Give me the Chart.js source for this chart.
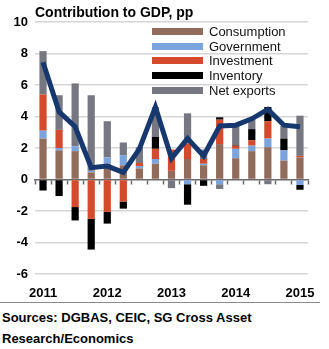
<!DOCTYPE html>
<html lang="en">
<head>
  <meta charset="UTF-8">
  <title>Contribution to GDP, pp</title>
  <script src="https://cdn.jsdelivr.net/npm/chart.js"></script>
  <style>
    body {
      margin: 0;
      width: 329px;
      height: 349px;
      background: #fff;
      font-family: 'Liberation Sans', Arial, sans-serif;
      position: relative;
      overflow: hidden;
    }

    #chart-box {
      position: absolute;
      left: 0;
      top: 0;
      width: 329px;
      height: 300px;
    }

    .title {
      position: absolute;
      left: 35px;
      top: 4px;
      font-size: 14px;
      font-weight: bold;
      line-height: 16px;
      color: #000;
    }

    /* leyenda */
    .legend {
      position: absolute;
      left: 152px;
      top: 24px;
    }
    .legend .item {
      height: 14.75px;
      display: flex;
      align-items: center;
      font-size: 13px;
      color: #111;
    }
    .legend .swatch {
      width: 51px;
      height: 7px;
      margin-right: 6px;
    }

    .rule {
      position: absolute;
      left: 0;
      top: 302px;
      width: 320px;
      border-top: 1px solid #8a8a8a;
    }

    .source {
      position: absolute;
      left: 2px;
      top: 307px;
      font-size: 13px;
      font-weight: bold;
      line-height: 21px;
      color: #000;
    }
  </style>
</head>
<body>
  <div id="chart-box"><canvas id="gdpChart"></canvas></div>
  <div class="title">Contribution to GDP, pp</div>
  <div class="legend" id="legend"></div>
  <div class="rule"></div>
  <div class="source">Sources: DGBAS, CEIC, SG Cross Asset<br>Research/Economics</div>

  <script>
    // Trimestres 2011Q1 - 2015Q1
    const quarters = ['2011', '', '', '', '2012', '', '', '', '2013', '', '', '', '2014', '', '', '', '2015'];

    const consumption = [2.6, 1.85, 1.8, 0.45, 1.0, 0.9, 0.7, 1.0, 0.55, 1.3, 0.9, 2.25, 1.35, 1.8, 2.05, 1.2, 1.4];
    const government  = [0.5, 0.15, 0.3, 0.1, 0.4, 0.65, 0.15, 0.3, 0, -0.3, 0.1, -0.3, 0.6, 0.35, 0.55, 0.65, -0.35];
    const investment  = [2.3, 1.15, -1.75, -2.5, -2.05, -1.4, 0.2, 0.65, 1.35, 1.0, 0.3, 1.55, 0.2, 0.35, 1.1, 0, 0.1];
    const inventory   = [-0.7, -1.05, -0.85, -1.95, -0.75, -0.45, 0, 0.75, 0, -1.3, -0.4, 0.15, 0.05, 0.7, 0.9, 0.75, -0.3];
    const netExports  = [2.75, 2.2, 4.0, 4.8, 2.3, 0.8, 1.0, 1.9, -0.55, 1.9, 0.6, -0.3, 1.2, 0.62, -0.3, 0.8, 2.55];
    const gdpGrowth   = [7.45, 4.3, 3.35, 0.75, 0.85, 0.45, 1.95, 4.6, 1.35, 2.6, 1.5, 3.4, 3.45, 3.85, 4.45, 3.45, 3.35];

    const seriesNames = ['Consumption', 'Government', 'Investment', 'Inventory', 'Net exports'];
    const seriesData = [consumption, government, investment, inventory, netExports];
    const seriesColors = ['#916b5c', '#7ba3dc', '#d54a2c', '#000000', '#777781'];

    const yTicks = [-6, -4, -2, 0, 2, 4, 6, 8, 10];

    // leyenda en HTML
    const legend = document.getElementById('legend');
    seriesNames.forEach((name, i) => {
      const row = document.createElement('div');
      row.className = 'item';
      row.innerHTML = '<span class="swatch" style="background:' + seriesColors[i] + '"></span>' + name;
      legend.appendChild(row);
    });

    const datasets = seriesNames.map((name, i) => ({
      label: name,
      data: seriesData[i],
      backgroundColor: seriesColors[i],
      borderWidth: 0,
      barPercentage: 0.9,
      categoryPercentage: 0.5,
      order: 1
    }));

    datasets.push({
      type: 'line',
      label: 'GDP',
      data: gdpGrowth,
      stack: 'gdp',
      borderColor: '#17386e',
      borderWidth: 5,
      pointRadius: 0,
      tension: 0,
      fill: false,
      order: 0
    });

    const tickFont = { family: "'Liberation Sans', Arial, sans-serif", size: 13, weight: 'bold' };

    new Chart(document.getElementById('gdpChart'), {
      type: 'bar',
      data: { labels: quarters, datasets: datasets },
      options: {
        responsive: true,
        maintainAspectRatio: false,
        animation: false,
        layout: { padding: { top: 22, right: 21, bottom: 0, left: 0 } },
        plugins: {
          legend: { display: false },
          tooltip: { enabled: false }
        },
        scales: {
          x: {
            stacked: true,
            offset: true,
            grid: { display: false },
            border: { display: false },
            ticks: {
              font: tickFont,
              color: '#000',
              autoSkip: false,
              maxRotation: 0,
              padding: 4
            },
            afterFit: (scale) => { scale.height = 26; }
          },
          xZero: {
            type: 'category',
            position: { y: 0 },
            offset: true,
            grid: {
              offset: true,
              drawOnChartArea: false,
              drawTicks: true,
              tickLength: 4,
              tickColor: '#6b6b6b',
              tickWidth: 1.5
            },
            border: { display: true, color: '#6b6b6b', width: 1.5 },
            ticks: { display: false }
          },
          y: {
            stacked: true,
            min: -6,
            max: 10,
            afterBuildTicks: (scale) => { scale.ticks = yTicks.map(v => ({ value: v })); },
            ticks: {
              font: tickFont,
              color: '#000',
              padding: 7
            },
            grid: {
              color: (c) => c.tick && c.tick.value === 0 ? 'rgba(0,0,0,0)' : '#d6d6d6',
              lineWidth: 1.5,
              drawTicks: false
            },
            border: { display: false },
            afterFit: (scale) => { scale.width = 35; }
          }
        }
      }
    });
  </script>
</body>
</html>
